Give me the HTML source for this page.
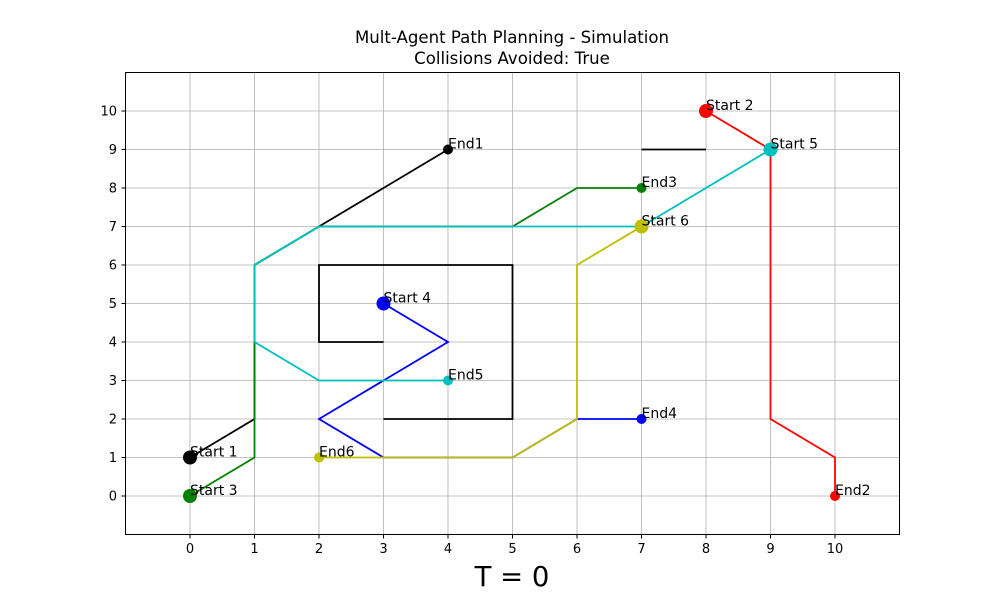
<!DOCTYPE html>
<html><head><meta charset="utf-8"><style>
body{margin:0;background:#fff;}
svg{display:block;font-family:"DejaVu Sans","Liberation Sans",sans-serif;}
</style></head><body>
<svg id="chart" width="1000" height="600" viewBox="0 0 1000 600" xmlns="http://www.w3.org/2000/svg">
<rect width="1000" height="600" fill="#fff"/>
<text x="512" y="43" font-size="16.6" text-anchor="middle">Mult-Agent Path Planning - Simulation</text>
<text x="512" y="64" font-size="16.6" text-anchor="middle">Collisions Avoided: True</text>
<text x="512" y="586" font-size="27.5" text-anchor="middle">T = 0</text>
<g id="grid"></g><g id="obs"></g><g id="paths"></g><g id="marks"></g><g id="ticks"></g>
<rect x="125.5" y="72.5" width="774" height="462" fill="none" stroke="#000" stroke-width="1"/>
</svg>
<script>
const xTicks=[0,1,2,3,4,5,6,7,8,9,10];
const yTicks=[0,1,2,3,4,5,6,7,8,9,10];
const obstacles=[[[3,4],[2,4],[2,6],[5,6],[5,2],[3,2]],[[7,9],[8,9]]];
const agentColors=['#000000','#ff0000','#008000','#0000ff','#00bfbf','#bfbf00'];
const agentPaths=[
 [[0,1],[1,2],[1,6],[2,7],[4,9]],
 [[8,10],[9,9],[9,2],[10,1],[10,0]],
 [[0,0],[1,1],[1,6],[2,7],[5,7],[6,8],[7,8]],
 [[3,5],[4,4],[2,2],[3,1],[5,1],[6,2],[7,2]],
 [[9,9],[7,7],[2,7],[1,6],[1,4],[2,3],[4,3]],
 [[7,7],[6,6],[6,2],[5,1],[2,1]]
];
const startLabels=['Start 1','Start 2','Start 3','Start 4','Start 5','Start 6'];
const endLabels=['End1','End2','End3','End4','End5','End6'];
const NS='http://www.w3.org/2000/svg';
const X=v=>190+64.5*v, Y=v=>496-38.5*v;
function mk(t,a,p){const e=document.createElementNS(NS,t);for(const k in a)e.setAttribute(k,a[k]);document.getElementById(p).appendChild(e);return e;}
xTicks.forEach(t=>{
 const g=mk('line',{x1:X(t),x2:X(t),y1:72.5,y2:534.5,stroke:'#b0b0b0','stroke-width':0.8},'grid');
 
 
 const tk=mk('line',{x1:X(t),x2:X(t),y1:534.5,y2:538.5,stroke:'#000'},'ticks');
 
 
 const l=mk('text',{x:X(t),y:553,'font-size':13,'text-anchor':'middle'},'ticks');l.textContent=t;
 
 
});
yTicks.forEach(t=>{
 const g=mk('line',{y1:Y(t),y2:Y(t),x1:125.5,x2:899.5,stroke:'#b0b0b0','stroke-width':0.8},'grid');
 
 
 const tk=mk('line',{y1:Y(t),y2:Y(t),x1:121.5,x2:125.5,stroke:'#000'},'ticks');
 
 
 const l=mk('text',{x:117,y:Y(t)+4.5,'font-size':13,'text-anchor':'end'},'ticks');l.textContent=t;
 
 
});
obstacles.forEach(o=>{
 const p=mk('polyline',{points:o.map(q=>X(q[0])+','+Y(q[1])).join(' '),fill:'none',stroke:'#000','stroke-width':1.8},'obs');
 
 
});
agentPaths.forEach((pth,i)=>{
 const p=mk('polyline',{points:pth.map(q=>X(q[0])+','+Y(q[1])).join(' '),fill:'none',stroke:agentColors[i],'stroke-width':1.8},'paths');
 
 
});
agentPaths.forEach((pth,i)=>{
 const s=pth[0],e=pth[pth.length-1];
 const c1=mk('circle',{cx:X(s[0]),cy:Y(s[1]),r:7,fill:agentColors[i]},'marks');
 
 
 const c2=mk('circle',{cx:X(e[0]),cy:Y(e[1]),r:5,fill:agentColors[i]},'marks');
 
 
 const t1=mk('text',{x:X(s[0]),y:Y(s[1])-1,'font-size':14},'marks');t1.textContent=startLabels[i];
 
 
 const t2=mk('text',{x:X(e[0]),y:Y(e[1])-1,'font-size':14},'marks');t2.textContent=endLabels[i];
 
 
});
</script>
</body></html>
